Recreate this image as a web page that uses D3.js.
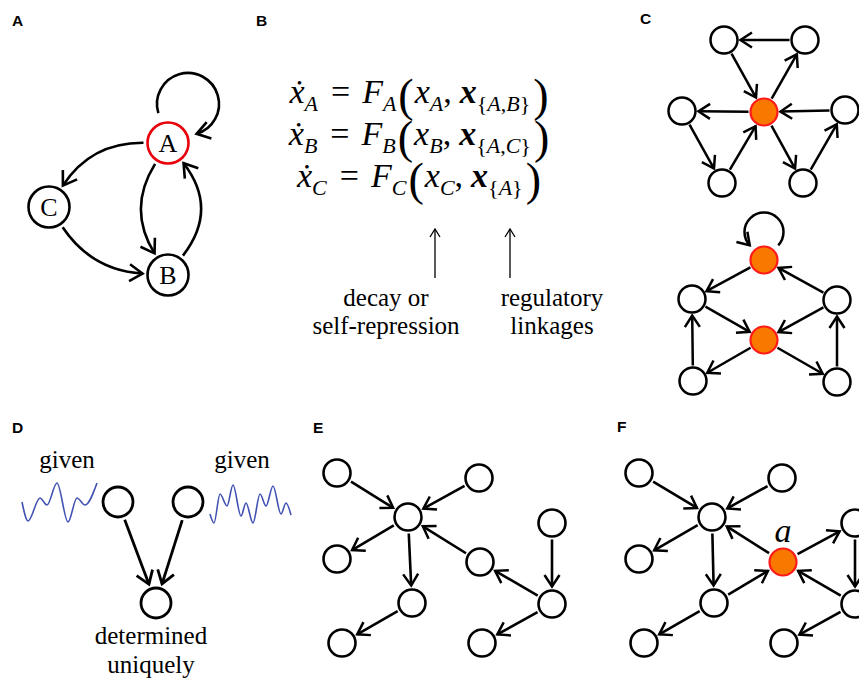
<!DOCTYPE html>
<html><head><meta charset="utf-8">
<script src="https://cdn.jsdelivr.net/npm/d3@7"></script>
<style>body{margin:0;background:#fff}svg{display:block}</style>
</head><body>
<svg id="fig" width="859" height="678"></svg>
<script>
// ---------------- data ----------------
const panelLabels = ["A", "B", "C", "D", "E", "F"];

// Panel A: three-gene network
const nodesA = [{id:"A", x:168, y:143, hl:true}, {id:"B", x:168, y:275}, {id:"C", x:49, y:207}];
const edgesA = [["A","C",-37], ["C","B",-34], ["A","B",-41], ["B","A",-51]];
const selfLoopsA = ["A"];

// Panel B: equations
const eqVars = ["A", "B", "C"];
const eqSets = [["A","B"], ["A","C"], ["A"]];
const noteLeft = ["decay or", "self-repression"];
const noteRight = ["regulatory", "linkages"];

// Panel C (upper)
const nodesC1 = [[724,40],[805,40],[764,112,1],[682,111],[845,110],[722,183],[803,183]];
const edgesC1 = [[1,0],[0,2],[2,1],[2,3],[4,2],[3,5],[5,2],[2,6],[6,4]];
// Panel C (lower)
const nodesC2 = [[764,260,1],[692,299],[837,300],[764,340,1],[693,381],[837,382]];
const edgesC2 = [[0,1],[2,0],[1,3],[2,3],[3,4],[3,5],[4,1],[5,2]];
const selfLoopsC2 = [0];

// Panel D
const nodesD = [[118,502],[188,502],[156,603]];
const edgesD = [[0,2],[1,2]];
const waveLeft = [[22,502],[28,521],[40,498],[47,505],[57,483],[68,522],[77,498],[85,505],[97,483]];
const waveRight = [[210,514],[214,523],[220,494],[227,506],[233,485],[241,516],[246,503],[253,523],[260,494],[266,506],[273,486],[281,514],[286,503],[291,515]];
const givenText = "given";
const determinedText = ["determined", "uniquely"];

// Panel E
const nodesE = [[337,473],[479,478],[408,517],[552,523],[337,559],[480,562],[412,603],[552,604],[342,643],[482,643]];
const edgesE = [[0,2],[1,2],[2,4],[2,6],[5,2],[3,7],[7,5],[6,8],[7,9]];

// Panel F
const nodesF = [[639,473],[782,478],[712,517],[855,523],[639,559],[783,562,1],[714,603],[855,604],[644,643],[784,643]];
const edgesF = [[0,2],[1,2],[2,4],[2,6],[5,2],[6,5],[5,3],[3,7],[7,5],[6,8],[7,9]];
const labelF = "a";

// ---------------- drawing ----------------
const svg = d3.select("#fig");
svg.append("rect").attr("width", 859).attr("height", 678).attr("fill", "#fff");
const sx = d3.scaleIdentity(), sy = d3.scaleIdentity();
const SERIF = "'Liberation Serif','Times New Roman',serif";
const ORANGE = "#f97800", RED = "#ff1a1a";

const defs = svg.append("defs");
function marker(id, len, half, sw) {
  defs.append("marker").attr("id", id).attr("markerUnits", "userSpaceOnUse")
    .attr("markerWidth", 40).attr("markerHeight", 40).attr("refX", 0).attr("refY", 0)
    .attr("viewBox", "-20 -20 40 40").attr("orient", "auto").style("overflow", "visible")
    .append("path").attr("d", `M${-len},${-half}L0,0L${-len},${half}`)
    .attr("fill", "none").attr("stroke", "#000").attr("stroke-width", sw).attr("stroke-linejoin", "miter");
}
marker("arrA", 13, 8.5, 2.6);
marker("arr", 11.5, 7.5, 2.5);
marker("arrD", 12.5, 8.5, 2.8);
marker("arrThin", 8, 5, 1.3);

// panel labels
const labelPos = [[12,26],[256,26],[640,24],[12,433],[313,433],[617,432]];
svg.append("g").selectAll("text").data(panelLabels).join("text")
  .attr("x", (d,i) => labelPos[i][0]).attr("y", (d,i) => labelPos[i][1])
  .style("font-family", "'Liberation Sans',Arial,sans-serif").style("font-weight", "bold")
  .style("font-size", "15.5px").text(d => d);

function drawGraph(nodes, edges, r, gs, ge, mk, sw, dsw) {
  const g = svg.append("g");
  edges.forEach(([s, t]) => {
    const a = nodes[s], b = nodes[t];
    const x1 = sx(a[0]), y1 = sy(a[1]), x2 = sx(b[0]), y2 = sy(b[1]);
    const L = Math.hypot(x2 - x1, y2 - y1), ux = (x2 - x1) / L, uy = (y2 - y1) / L;
    g.append("line")
      .attr("x1", x1 + ux * (r + gs)).attr("y1", y1 + uy * (r + gs))
      .attr("x2", x2 - ux * (r + ge)).attr("y2", y2 - uy * (r + ge))
      .attr("stroke", "#000").attr("stroke-width", sw).attr("marker-end", `url(#${mk})`);
  });
  g.selectAll("circle").data(nodes).join("circle")
    .attr("cx", d => sx(d[0])).attr("cy", d => sy(d[1])).attr("r", r)
    .attr("fill", d => d[2] ? ORANGE : "#fff")
    .attr("stroke", d => d[2] ? RED : "#000")
    .attr("stroke-width", d => d[2] ? 2.2 : dsw);
  return g;
}

// ---- Panel A ----
(function () {
  const g = svg.append("g");
  const byId = Object.fromEntries(nodesA.map(n => [n.id, n]));
  const r = 20.5, gap = 4;
  edgesA.forEach(([s, t, bend]) => {
    const a = byId[s], b = byId[t];
    const ax = sx(a.x), ay = sy(a.y), bx = sx(b.x), by = sy(b.y);
    const dx = bx - ax, dy = by - ay, L = Math.hypot(dx, dy);
    const cx = (ax + bx) / 2 + bend * dy / L, cy = (ay + by) / 2 - bend * dx / L;
    const la = Math.hypot(cx - ax, cy - ay), lb = Math.hypot(cx - bx, cy - by);
    const p0 = [ax + (cx - ax) / la * (r + gap), ay + (cy - ay) / la * (r + gap)];
    const p2 = [bx + (cx - bx) / lb * (r + gap + 1), by + (cy - by) / lb * (r + gap + 1)];
    g.append("path").attr("d", `M${p0}Q${cx},${cy} ${p2}`)
      .attr("fill", "none").attr("stroke", "#000").attr("stroke-width", 2.6)
      .attr("marker-end", "url(#arrA)");
  });
  selfLoopsA.forEach(id => {
    const n = byId[id];
    const p = d3.path();
    const cx = sx(n.x) + 20, cy = sy(n.y) - 39, rr = 31;
    const a0 = 163 * Math.PI / 180, a1 = 434 * Math.PI / 180;
    p.moveTo(cx + rr * Math.cos(a0), cy + rr * Math.sin(a0));
    p.arc(cx, cy, rr, a0, a1, false);
    g.append("path").attr("d", p.toString()).attr("fill", "none").attr("stroke", "#000")
      .attr("stroke-width", 2.6).attr("marker-end", "url(#arrA)");
  });
  g.selectAll("circle").data(nodesA).join("circle")
    .attr("cx", d => sx(d.x)).attr("cy", d => sy(d.y)).attr("r", r)
    .attr("fill", "#fff").attr("stroke", d => d.hl ? "#e8000b" : "#000").attr("stroke-width", 2.6);
  g.selectAll("text").data(nodesA).join("text")
    .attr("x", d => sx(d.x)).attr("y", d => sy(d.y) + 9).attr("text-anchor", "middle")
    .style("font-family", SERIF).style("font-size", "26px").text(d => d.id);
})();

// ---- Panel B ----
(function () {
  const g = svg.append("g");
  const baselines = [103, 145, 187];
  eqVars.forEach((v, k) => {
    const txt = g.append("text").attr("x", 419).attr("y", baselines[k]).attr("text-anchor", "middle")
      .style("font-family", SERIF).style("font-size", "34px");
    let shift = 0;
    const add = (s, o = {}) => {
      const ts = txt.append("tspan").text(s);
      const target = o.shift || 0;
      ts.attr("dy", target - shift); shift = target;
      if (o.dx) ts.attr("dx", o.dx);
      if (o.i) ts.style("font-style", "italic");
      if (o.b) ts.style("font-weight", "bold");
      if (o.size) ts.style("font-size", o.size + "px");
    };
    add("\u1E8B", {i: 1});
    add(v, {i: 1, size: 22, shift: 8});
    add("=", {dx: 13});
    add("F", {i: 1, dx: 12});
    add(v, {i: 1, size: 22, shift: 8});
    add("(", {size: 46, shift: 8, dx: 2});
    add("x", {i: 1, dx: 1});
    add(v, {i: 1, size: 22, shift: 8});
    add(",", {});
    add("x", {i: 1, b: 1, dx: 8});
    add("{", {size: 22, shift: 8});
    eqSets[k].forEach((s, j) => {
      if (j) add(",", {size: 22, shift: 8});
      add(s, {i: 1, size: 22, shift: 8});
    });
    add("}", {size: 22, shift: 8});
    add(")", {size: 46, shift: 8, dx: 3});
  });
  [435, 510].forEach(x => {
    g.append("line").attr("x1", x).attr("x2", x).attr("y1", 278).attr("y2", 229)
      .attr("stroke", "#000").attr("stroke-width", 1.3).attr("marker-end", "url(#arrThin)");
  });
  const notes = [[386, noteLeft], [552, noteRight]];
  notes.forEach(([x, lines]) => {
    g.selectAll(null).data(lines).join("text")
      .attr("x", x).attr("y", (d, i) => 306 + i * 28).attr("text-anchor", "middle")
      .style("font-family", SERIF).style("font-size", "25px").text(d => d);
  });
})();

// ---- Panel C ----
const gC2 = drawGraph(nodesC2, edgesC2, 13.5, 2, 3, "arr", 2.5, 2.5);
selfLoopsC2.forEach(i => {
  const n = nodesC2[i];
  const p = d3.path();
  const cx = sx(n[0]), cy = sy(n[1]) - 28, rr = 19.5;
  const a0 = 43 * Math.PI / 180, a1 = 137 * Math.PI / 180;
  p.moveTo(cx + rr * Math.cos(a0), cy + rr * Math.sin(a0));
  p.arc(cx, cy, rr, a0, a1, true);
  gC2.insert("path", "circle").attr("d", p.toString()).attr("fill", "none").attr("stroke", "#000")
    .attr("stroke-width", 2.5).attr("marker-end", "url(#arr)");
});
drawGraph(nodesC1, edgesC1, 13.5, 2, 3, "arr", 2.5, 2.5);

// ---- Panel D ----
(function () {
  const g = svg.append("g");
  const line = d3.line().x(d => sx(d[0])).y(d => sy(d[1])).curve(d3.curveMonotoneX);
  [waveLeft, waveRight].forEach(w => g.append("path").attr("d", line(w))
    .attr("fill", "none").attr("stroke", "#4152b3").attr("stroke-width", 1.6));
  [[67, 468], [242, 468]].forEach(([x, y]) => g.append("text").attr("x", x).attr("y", y)
    .attr("text-anchor", "middle").style("font-family", SERIF).style("font-size", "25px").text(givenText));
  g.selectAll(null).data(determinedText).join("text")
    .attr("x", 151).attr("y", (d, i) => 644 + i * 29).attr("text-anchor", "middle")
    .style("font-family", SERIF).style("font-size", "25px").text(d => d);
})();
drawGraph(nodesD, edgesD, 15, 4, 5, "arrD", 2.8, 2.8);

// ---- Panel E ----
drawGraph(nodesE, edgesE, 13.5, 3, 4, "arr", 2.6, 2.6);

// ---- Panel F ----
drawGraph(nodesF, edgesF, 13.5, 3, 4, "arr", 2.6, 2.6);
svg.append("text").attr("x", sx(nodesF[5][0])).attr("y", sy(nodesF[5][1]) - 20)
  .attr("text-anchor", "middle").style("font-family", SERIF).style("font-style", "italic")
  .style("font-size", "34px").text(labelF);
</script>
</body></html>
